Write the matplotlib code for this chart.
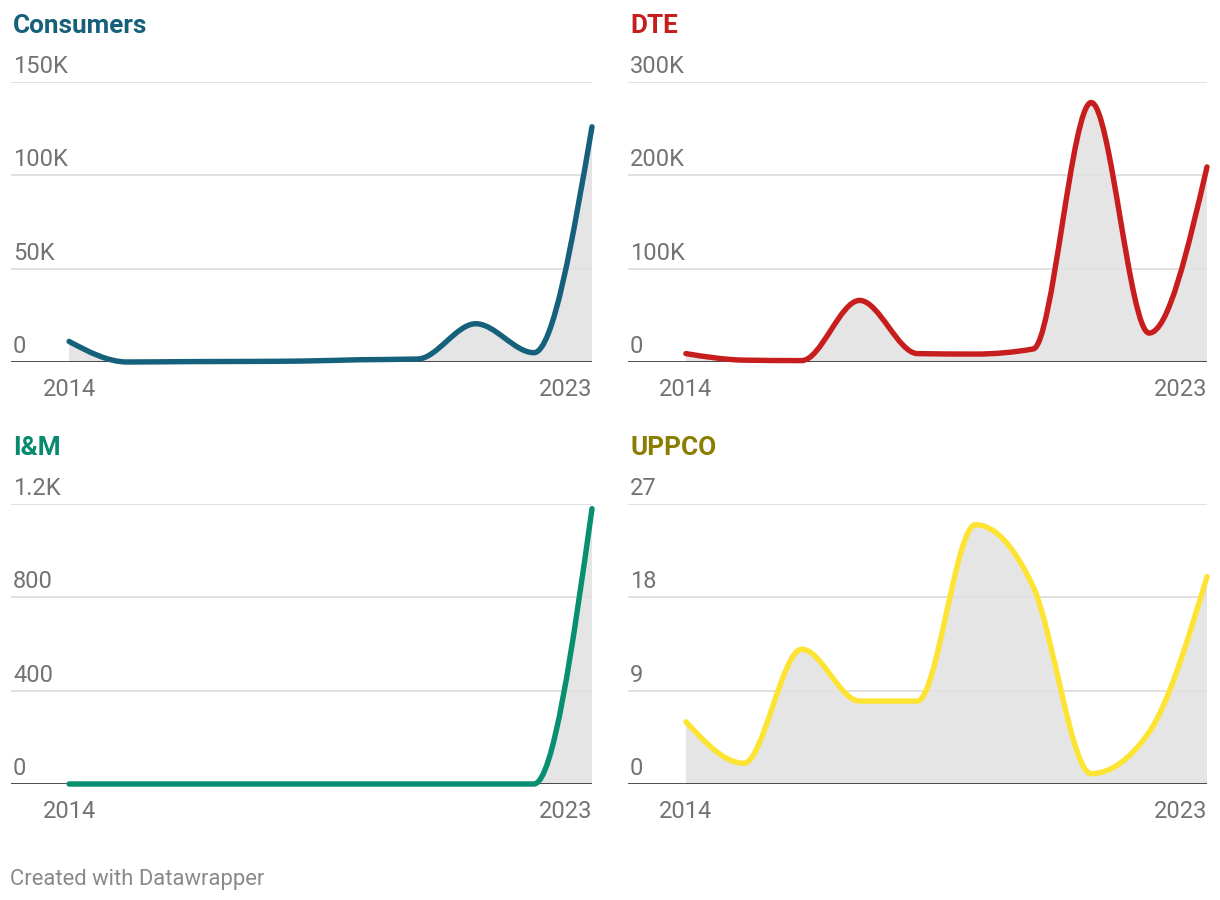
import numpy as np
import matplotlib
matplotlib.use('Agg')
import matplotlib.pyplot as plt
from matplotlib.path import Path
from matplotlib.patches import PathPatch
from matplotlib import transforms

plt.rcParams['font.family'] = ['Roboto', 'DejaVu Sans']

# ---------------- data ----------------
years = [2014, 2015, 2016, 2017, 2018, 2019, 2020, 2021, 2022, 2023]
consumers = [11000, 0, 200, 300, 500, 1200, 1600, 20500, 5000, 126000]
dte = [9000, 2000, 1500, 66000, 9000, 8500, 14000, 278000, 31000, 209000]
im = [0, 0, 0, 0, 0, 0, 0, 0, 0, 1180]
uppco = [6, 2, 13, 8, 8, 25, 19, 1, 5, 20]

titles = ['Consumers', 'DTE', 'I&M', 'UPPCO']
title_colors = ['#15607a', '#c71e1d', '#078a6e', '#8a7d00']
line_colors = ['#15607a', '#c71e1d', '#078f72', '#fde433']

consumers_ticks = [0, 50000, 100000, 150000]
consumers_ticklabels = ['0', '50K', '100K', '150K']
dte_ticks = [0, 100000, 200000, 300000]
dte_ticklabels = ['0', '100K', '200K', '300K']
im_ticks = [0, 400, 800, 1200]
im_ticklabels = ['0', '400', '800', '1.2K']
uppco_ticks = [0, 9, 18, 27]
uppco_ticklabels = ['0', '9', '18', '27']

x_ticklabels = ['2014', '2023']

series = [consumers, dte, im, uppco]
ticks = [consumers_ticks, dte_ticks, im_ticks, uppco_ticks]
ticklabels = [consumers_ticklabels, dte_ticklabels, im_ticklabels, uppco_ticklabels]

# ---------------- layout (pixels) ----------------
W, H = 1220, 900
fig = plt.figure(figsize=(W / 100, H / 100), dpi=100)

# left, right, top, bottom of each plot area in pixels
rects = [(11, 592, 82, 362), (628, 1207, 82, 362),
         (11, 592, 504, 784), (628, 1207, 504, 784)]

GRID = '#e1e1e1'
FILL = '#e5e5e5'
LABEL = '#737373'


def monotone_path(x, y):
    """d3 curveMonotoneX as cubic Bezier path."""
    x = np.asarray(x, float)
    y = np.asarray(y, float)
    n = len(x)
    h = np.diff(x)
    s = np.diff(y) / h
    t = np.zeros(n)
    for i in range(1, n - 1):
        s0, s1 = s[i - 1], s[i]
        h0, h1 = h[i - 1], h[i]
        p = (s0 * h1 + s1 * h0) / (h0 + h1)
        t[i] = (np.sign(s0) + np.sign(s1)) * min(abs(s0), abs(s1), 0.5 * abs(p))
    t[0] = (3 * s[0] - t[1]) / 2
    t[-1] = (3 * s[-1] - t[-2]) / 2
    verts = [(x[0], y[0])]
    codes = [Path.MOVETO]
    for i in range(n - 1):
        dx = (x[i + 1] - x[i]) / 3
        verts += [(x[i] + dx, y[i] + dx * t[i]),
                  (x[i + 1] - dx, y[i + 1] - dx * t[i + 1]),
                  (x[i + 1], y[i + 1])]
        codes += [Path.CURVE4] * 3
    return verts, codes


for k in range(4):
    l, r, tp, b = rects[k]
    ax = fig.add_axes([l / W, 1 - b / H, (r - l) / W, (b - tp) / H])
    ax.set_xlim(years[0] - 1, years[-1])
    ax.set_ylim(0, ticks[k][-1])
    ax.axis('off')

    # gridlines
    for tv in ticks[k][1:]:
        ax.axhline(tv, color=GRID, lw=1.4, zorder=2)
    ax.axhline(0, color='#1a1a1a', lw=1.8, zorder=4)

    # area + line
    verts, codes = monotone_path(years, series[k])
    fverts = verts + [(years[-1], 0), (years[0], 0), (years[0], 0)]
    fcodes = codes + [Path.LINETO, Path.LINETO, Path.CLOSEPOLY]
    ax.add_patch(PathPatch(Path(fverts, fcodes), facecolor=FILL,
                           edgecolor='none', zorder=1))
    ax.add_patch(PathPatch(Path(verts, codes), facecolor='none',
                           edgecolor=line_colors[k], lw=3.9,
                           capstyle='round', joinstyle='round',
                           zorder=5, clip_on=False))

    # y tick labels (above the gridlines)
    ytrans = transforms.offset_copy(
        transforms.blended_transform_factory(ax.transAxes, ax.transData),
        fig=fig, x=2, y=9, units='dots')
    for tv, tl in zip(ticks[k], ticklabels[k]):
        ax.text(0, tv, tl, transform=ytrans, ha='left', va='baseline',
                fontsize=17, color=LABEL, zorder=6)

    # x tick labels
    xtrans = transforms.offset_copy(
        transforms.blended_transform_factory(ax.transData, ax.transAxes),
        fig=fig, x=0, y=-34, units='dots')
    ax.text(years[0], 0, x_ticklabels[0], transform=xtrans, ha='center',
            va='baseline', fontsize=17, color=LABEL)
    ax.text(years[-1], 0, x_ticklabels[1], transform=xtrans, ha='right',
            va='baseline', fontsize=17, color=LABEL)

    # title
    fig.text((l + 2) / W, 1 - (tp - 49) / H, titles[k], ha='left',
             va='baseline', fontsize=18.8, fontweight='bold',
             color=title_colors[k])

fig.text(10 / W, 1 - 885 / H, 'Created with Datawrapper', ha='left',
         va='baseline', fontsize=15.8, color='#8a8a8a')

fig.savefig('out.png', dpi=100, facecolor='white')
